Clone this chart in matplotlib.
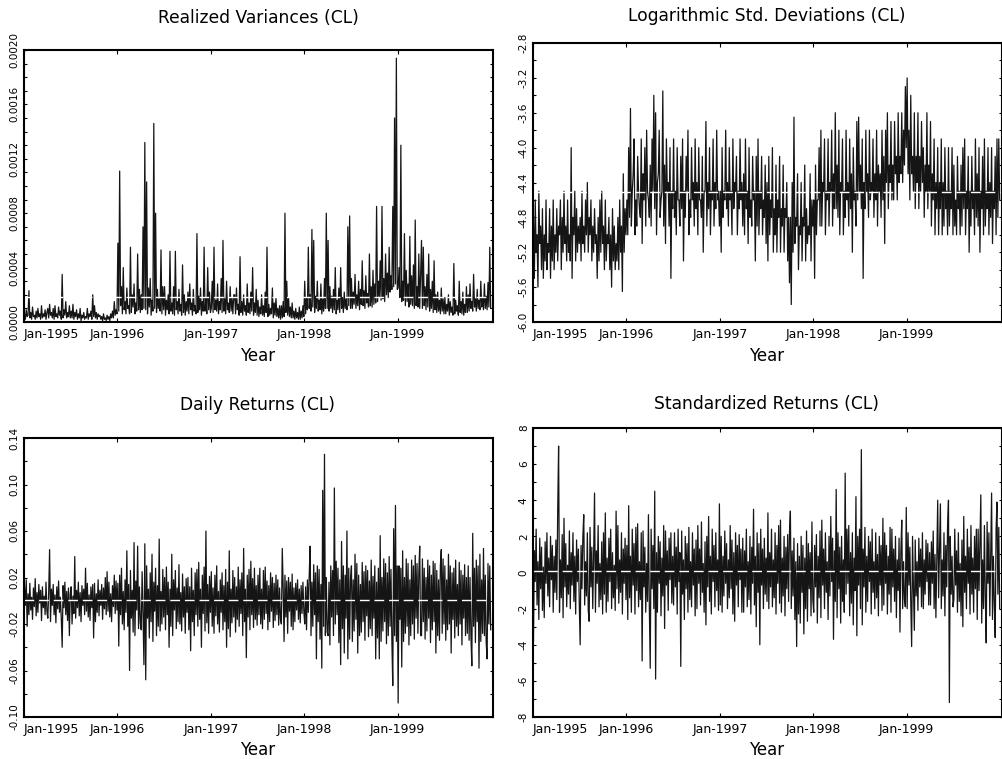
"""Four-panel CL volatility / returns figure (twice-weekly readings, 26 per quarter)."""
import matplotlib
matplotlib.use("Agg")
import matplotlib.pyplot as plt
import numpy as np
from matplotlib.ticker import FixedLocator, FormatStrFormatter

plt.rcParams['font.family'] = ['DejaVu Sans']
plt.rcParams['axes.unicode_minus'] = False

years = [1995, 1996, 1997, 1998, 1999]
year_labels = ['Jan-1995', 'Jan-1996', 'Jan-1997', 'Jan-1998', 'Jan-1999']

# realized variance, in units of 1e-4 (one row = one quarter)
rv_e4 = [
    0.6, 0.2, 0.9, 0.4, 0.5, 2.3, 0.3, 0.7, 0.2, 1.1, 0.4, 0.5, 0.2, 0.8, 0.3, 1.0, 0.4, 0.6, 0.2, 1.2, 0.3, 0.6, 0.4, 0.9, 0.2, 0.7,
    1.0, 0.3, 1.3, 0.5, 0.7, 0.3, 1.0, 0.2, 1.2, 0.4, 0.6, 0.3, 1.1, 0.5, 0.8, 0.2, 3.5, 0.3, 0.9, 0.5, 1.5, 0.3, 0.7, 0.4, 1.2, 0.3,
    0.8, 0.3, 1.3, 0.2, 0.7, 0.4, 0.9, 0.2, 0.6, 0.3, 1.0, 0.1, 0.5, 0.3, 0.7, 0.2, 0.4, 0.3, 1.0, 0.2, 0.6, 0.4, 0.8, 0.2, 2.0, 0.4,
    1.2, 0.3, 0.7, 0.2, 0.6, 0.4, 0.5, 0.2, 0.4, 0.1, 0.6, 0.2, 0.3, 0.1, 0.5, 0.2, 0.4, 0.1, 0.6, 0.3, 0.8, 0.3, 1.5, 0.5, 0.9, 0.6,
    5.8, 0.8, 11.1, 1.2, 2.6, 0.6, 4.0, 0.9, 1.5, 0.6, 2.5, 1.0, 1.2, 0.6, 5.5, 0.7, 2.0, 1.1, 2.8, 0.6, 1.4, 0.8, 5.0, 0.9, 2.4, 0.7,
    2.0, 0.9, 7.0, 1.0, 13.2, 0.9, 10.3, 0.6, 2.5, 1.1, 3.2, 0.5, 1.6, 0.8, 14.6, 1.0, 8.0, 0.7, 2.4, 1.0, 1.7, 0.8, 5.3, 0.6, 2.6, 0.9,
    2.6, 0.5, 1.6, 0.9, 2.0, 0.6, 5.2, 0.8, 1.4, 0.6, 2.6, 0.5, 5.2, 0.9, 1.5, 0.6, 2.4, 0.8, 1.3, 0.5, 4.2, 0.7, 2.0, 0.5, 1.5, 0.8,
    2.2, 0.6, 2.8, 0.9, 1.4, 0.5, 2.4, 0.8, 1.2, 0.6, 6.5, 0.7, 1.9, 0.9, 2.5, 0.5, 1.5, 0.8, 5.5, 0.8, 1.8, 0.6, 4.0, 0.9, 2.2, 0.7,
    1.0, 3.0, 0.7, 5.5, 0.9, 1.6, 0.8, 2.8, 0.6, 1.5, 0.9, 3.2, 0.7, 6.0, 0.8, 1.7, 0.6, 3.0, 0.9, 1.4, 0.7, 2.6, 0.8, 1.8, 0.6, 2.0,
    2.0, 0.6, 2.5, 0.9, 1.3, 0.5, 4.8, 0.7, 1.5, 0.5, 2.0, 0.8, 1.2, 0.5, 2.8, 0.7, 1.4, 0.6, 2.2, 0.8, 4.0, 0.5, 1.4, 0.7, 2.4, 0.5,
    1.6, 0.4, 1.1, 0.6, 2.0, 0.5, 1.2, 0.4, 2.2, 0.7, 5.5, 0.4, 1.3, 0.5, 1.0, 0.6, 2.5, 0.3, 1.4, 0.5, 1.8, 0.4, 1.0, 0.3, 1.2, 0.2,
    1.2, 0.3, 1.5, 0.4, 8.0, 0.7, 3.0, 0.5, 1.8, 0.4, 1.1, 0.3, 1.4, 0.3, 0.8, 0.2, 1.0, 0.3, 0.7, 0.2, 1.1, 0.2, 0.8, 0.3, 1.2, 0.4,
    3.0, 0.6, 1.8, 0.9, 5.5, 1.0, 2.0, 0.8, 6.8, 1.1, 6.0, 0.7, 1.9, 1.0, 3.0, 0.8, 1.6, 0.9, 2.8, 0.6, 1.7, 0.8, 3.2, 1.0, 8.0, 1.0,
    6.0, 0.8, 2.6, 1.0, 1.9, 0.7, 2.4, 0.9, 4.0, 0.6, 1.6, 0.9, 2.5, 0.7, 4.0, 1.0, 1.8, 0.7, 2.2, 1.0, 1.7, 0.9, 7.0, 1.2, 7.8, 1.0,
    3.2, 1.0, 2.2, 1.3, 3.5, 1.0, 2.0, 1.2, 3.0, 0.9, 2.4, 1.3, 4.5, 1.2, 2.3, 1.0, 3.4, 1.4, 2.1, 1.1, 5.0, 1.2, 2.6, 1.1, 3.8, 1.3,
    2.8, 1.4, 8.5, 1.5, 3.0, 1.8, 4.5, 1.6, 8.5, 1.7, 3.2, 1.5, 5.0, 2.0, 3.6, 1.8, 5.5, 2.2, 3.4, 2.4, 8.5, 2.6, 15.0, 2.8, 19.4, 2.4,
    2.5, 4.0, 1.8, 13.0, 1.5, 3.0, 1.6, 6.5, 1.2, 3.8, 1.5, 2.8, 1.1, 6.3, 1.3, 3.4, 1.2, 4.2, 1.0, 7.5, 1.2, 2.6, 1.1, 5.0, 1.0, 3.6,
    6.0, 1.0, 5.5, 1.2, 2.6, 0.9, 3.5, 1.1, 5.0, 0.8, 2.4, 1.0, 3.0, 0.7, 4.5, 0.9, 2.0, 0.7, 2.2, 0.8, 1.6, 0.6, 2.5, 0.8, 1.7, 0.6,
    1.8, 0.6, 1.3, 0.8, 2.0, 0.5, 1.5, 0.7, 1.1, 0.5, 4.3, 0.6, 1.6, 0.8, 1.2, 0.5, 3.0, 0.7, 1.5, 0.6, 2.2, 0.5, 1.3, 0.7, 2.6, 0.7,
    2.0, 0.8, 2.8, 1.0, 1.5, 0.8, 3.5, 1.1, 1.7, 0.8, 2.4, 1.0, 1.6, 0.9, 3.0, 1.1, 1.8, 0.9, 2.8, 1.0, 1.9, 0.9, 2.9, 1.1, 5.5, 1.0,
]

log_std = [
    -4.8, -5.5, -4.6, -5.2, -5.0, -5.6, -4.5, -5.1, -4.9, -5.4, -4.7, -5.5, -5.0, -5.3, -4.6, -5.4, -5.1, -5.2, -4.7, -5.5, -4.9, -5.3, -4.6, -5.4, -5.0, -5.2,
    -4.7, -5.3, -4.9, -5.0, -4.6, -5.4, -4.8, -5.2, -4.5, -5.1, -4.9, -5.3, -4.6, -5.2, -5.0, -5.3, -4.0, -5.5, -4.8, -5.0, -4.5, -5.3, -4.7, -5.2, -4.9, -5.1,
    -4.8, -5.3, -4.5, -5.1, -4.9, -5.2, -4.6, -5.0, -4.4, -5.2, -4.8, -5.0, -4.6, -5.3, -4.9, -5.2, -4.7, -5.1, -5.0, -5.5, -4.8, -5.3, -4.6, -5.2, -4.5, -5.1,
    -4.9, -5.4, -4.6, -5.3, -5.0, -5.1, -4.8, -5.4, -5.0, -5.6, -4.7, -5.3, -4.9, -5.4, -5.1, -5.3, -4.8, -5.4, -4.6, -5.2, -4.9, -5.65, -4.3, -5.2, -4.7, -5.0,
    -4.6, -5.0, -4.0, -4.8, -3.55, -4.9, -4.5, -4.3, -3.9, -5.0, -4.6, -4.9, -4.1, -4.5, -4.7, -4.8, -3.9, -5.1, -4.3, -4.6, -4.0, -4.9, -3.8, -4.5, -4.6, -4.8,
    -4.2, -4.9, -3.9, -4.5, -3.4, -4.7, -3.6, -5.0, -4.4, -4.3, -3.8, -4.8, -4.6, -4.5, -3.35, -4.9, -4.2, -5.1, -3.9, -4.5, -4.4, -4.9, -4.0, -5.5, -4.5, -4.7,
    -3.9, -4.8, -4.5, -5.0, -4.0, -4.6, -4.6, -4.9, -4.1, -4.7, -3.9, -5.3, -4.5, -4.8, -4.1, -4.5, -3.8, -5.0, -4.6, -4.8, -4.0, -4.6, -4.4, -4.9, -3.9, -4.7,
    -4.4, -5.0, -4.0, -4.6, -4.6, -4.8, -4.1, -5.2, -4.5, -4.5, -3.7, -4.9, -4.4, -4.7, -4.0, -5.0, -4.5, -4.6, -3.9, -4.9, -4.4, -4.7, -3.8, -4.6, -4.5, -4.9,
    -4.5, -5.2, -4.0, -4.8, -4.5, -4.6, -3.8, -4.7, -4.4, -4.9, -4.0, -4.6, -4.5, -5.0, -3.9, -4.7, -4.4, -4.5, -4.1, -5.0, -4.5, -4.7, -3.9, -4.6, -4.4, -4.9,
    -4.3, -5.0, -3.9, -4.7, -4.5, -5.1, -4.0, -4.8, -4.6, -4.9, -4.1, -4.6, -4.5, -5.3, -4.1, -4.9, -3.9, -5.0, -4.5, -4.7, -4.1, -5.0, -4.6, -4.8, -4.2, -5.1,
    -4.4, -5.3, -4.1, -5.0, -4.6, -4.8, -4.0, -5.2, -4.7, -5.0, -4.2, -5.2, -4.6, -4.8, -4.1, -5.2, -4.7, -4.9, -4.2, -5.2, -4.7, -4.8, -4.4, -5.3, -4.8, -5.55,
    -4.8, -5.8, -4.4, -5.2, -3.65, -5.1, -4.8, -4.9, -4.3, -5.4, -4.9, -5.0, -4.4, -5.3, -4.8, -4.9, -4.2, -5.3, -4.7, -5.1, -4.9, -5.0, -4.3, -5.3, -4.6, -4.9,
    -4.6, -5.5, -4.2, -5.0, -4.6, -4.6, -4.0, -4.9, -3.8, -4.9, -4.4, -4.5, -3.9, -5.0, -4.5, -4.6, -3.9, -4.9, -4.4, -4.5, -3.8, -4.9, -4.3, -4.7, -3.6, -4.7,
    -4.2, -4.8, -3.8, -5.0, -4.4, -4.5, -3.9, -5.0, -4.5, -4.8, -3.8, -4.6, -4.4, -4.9, -3.9, -4.7, -4.3, -5.2, -4.0, -4.6, -4.5, -4.9, -3.7, -4.6, -3.65, -4.5,
    -4.2, -4.7, -3.9, -5.5, -4.4, -4.7, -3.8, -4.5, -4.3, -4.8, -3.8, -4.6, -4.4, -4.5, -3.9, -4.8, -4.3, -4.6, -3.8, -4.9, -4.2, -4.5, -4.3, -4.8, -3.8, -4.6,
    -4.1, -5.1, -3.8, -4.4, -3.6, -4.7, -4.2, -4.4, -3.7, -4.6, -4.2, -4.6, -3.7, -4.3, -4.1, -4.6, -3.6, -4.4, -4.1, -4.3, -3.6, -4.4, -3.8, -4.2, -3.3, -4.0,
    -3.2, -4.3, -3.8, -4.6, -3.4, -4.3, -4.1, -4.5, -3.6, -4.7, -4.1, -4.4, -3.6, -4.7, -4.1, -4.5, -3.7, -4.4, -4.0, -4.8, -4.2, -4.5, -3.6, -4.7, -4.2, -4.5,
    -3.7, -4.9, -4.3, -4.6, -3.9, -5.0, -4.4, -4.7, -4.0, -5.0, -4.4, -4.7, -3.9, -5.0, -4.4, -4.9, -4.0, -4.7, -4.5, -5.0, -4.0, -4.9, -4.5, -4.7, -4.0, -5.0,
    -4.2, -4.9, -4.6, -5.0, -4.1, -4.7, -4.5, -5.0, -4.2, -4.9, -4.0, -4.7, -3.9, -5.0, -4.5, -4.7, -4.1, -5.2, -4.5, -4.9, -4.1, -4.7, -4.5, -5.0, -3.9, -4.8,
    -4.3, -4.9, -4.0, -5.2, -4.5, -4.7, -4.1, -5.0, -3.9, -4.9, -4.5, -4.7, -4.0, -5.0, -4.4, -4.8, -4.0, -5.1, -4.5, -4.7, -4.1, -5.0, -3.9, -4.8, -3.9, -4.6,
]

returns = [
    0.012, -0.004, 0.018, -0.022, 0.006, -0.012, 0.015, -0.008, 0.003, -0.016, 0.011, -0.005, 0.019, -0.013, 0.007, -0.010, 0.014, -0.002, 0.009, -0.017, 0.012, -0.006, 0.004, -0.012, 0.016, -0.009,
    -0.015, 0.008, 0.044, -0.018, 0.010, -0.004, 0.014, -0.012, 0.005, -0.019, 0.012, -0.007, 0.017, -0.010, 0.003, -0.015, -0.040, 0.013, -0.006, 0.016, -0.012, 0.008, -0.017, 0.011, -0.030, 0.006,
    0.012, -0.020, 0.004, -0.011, 0.038, -0.015, 0.009, -0.006, 0.016, -0.013, 0.007, -0.018, 0.013, -0.004, 0.010, -0.012, 0.028, -0.009, 0.015, -0.014, 0.005, -0.017, 0.012, -0.006, 0.014, -0.032,
    0.015, -0.018, 0.006, -0.010, 0.018, -0.013, 0.009, -0.004, 0.014, -0.016, 0.011, -0.007, 0.020, -0.012, 0.025, -0.009, 0.016, -0.014, 0.006, -0.018, 0.013, -0.005, 0.022, -0.011, 0.017, -0.008,
    0.015, -0.039, 0.022, -0.012, 0.028, -0.020, 0.008, -0.025, 0.018, -0.010, 0.043, -0.022, 0.014, -0.060, 0.026, -0.015, 0.009, -0.027, 0.050, -0.030, 0.017, -0.008, 0.047, -0.024, 0.012, -0.019,
    -0.025, 0.025, -0.012, -0.055, 0.049, -0.068, 0.030, -0.015, 0.010, -0.032, 0.024, -0.018, 0.040, -0.035, 0.016, -0.009, 0.028, -0.030, 0.013, -0.022, 0.053, -0.026, 0.008, -0.020, 0.027, -0.014,
    0.020, -0.025, 0.029, -0.012, 0.016, -0.040, 0.010, -0.022, 0.040, -0.030, 0.018, -0.008, 0.026, -0.024, 0.011, -0.018, 0.031, -0.020, 0.007, -0.026, 0.023, -0.014, 0.012, -0.028, 0.019, -0.010,
    0.020, -0.025, 0.012, -0.043, 0.028, -0.018, 0.009, -0.030, 0.024, -0.012, 0.027, -0.022, 0.033, -0.016, 0.010, -0.040, 0.022, -0.011, 0.029, -0.026, 0.060, -0.019, 0.014, -0.028, 0.021, -0.010,
    0.025, -0.022, 0.011, -0.028, 0.022, -0.013, 0.030, -0.020, 0.008, -0.027, 0.018, -0.010, 0.024, -0.025, 0.013, -0.018, 0.027, -0.040, 0.016, -0.024, 0.043, -0.031, 0.010, -0.019, 0.026, -0.014,
    0.020, -0.027, 0.012, -0.016, 0.029, -0.022, 0.018, -0.011, 0.024, -0.030, 0.045, -0.018, 0.010, -0.049, 0.022, -0.014, 0.027, -0.025, 0.034, -0.012, 0.019, -0.023, 0.028, -0.016, 0.013, -0.021,
    0.022, -0.012, 0.028, -0.020, 0.010, -0.024, 0.026, -0.016, 0.029, -0.011, 0.017, -0.025, 0.013, -0.018, 0.024, -0.009, 0.020, -0.023, 0.015, -0.017, 0.022, -0.012, 0.018, -0.021, 0.011, -0.016,
    -0.020, 0.045, 0.012, -0.035, 0.022, -0.014, 0.017, -0.028, 0.020, -0.009, 0.016, -0.022, 0.023, -0.025, 0.011, -0.018, 0.015, -0.008, 0.018, -0.016, 0.010, -0.019, 0.013, -0.011, 0.016, -0.009,
    -0.020, 0.012, -0.025, 0.018, -0.010, 0.022, 0.047, -0.030, 0.016, -0.022, 0.031, -0.012, 0.024, -0.050, 0.030, -0.018, 0.027, -0.033, 0.014, -0.058, 0.095, -0.022, 0.126, -0.030, 0.020, -0.027,
    -0.030, 0.016, -0.038, 0.030, -0.014, 0.026, -0.030, 0.097, -0.020, 0.034, -0.012, 0.028, -0.036, 0.018, -0.055, 0.051, -0.024, 0.030, -0.045, 0.022, -0.015, 0.060, -0.050, 0.028, -0.033, 0.019,
    0.030, -0.035, 0.018, -0.026, 0.040, -0.016, 0.032, -0.045, 0.022, -0.030, 0.014, -0.027, 0.033, -0.018, 0.025, -0.034, 0.030, -0.013, 0.026, -0.031, 0.017, -0.024, 0.035, -0.030, 0.021, -0.015,
    0.030, -0.050, 0.016, -0.032, 0.028, -0.050, 0.056, -0.035, 0.020, -0.026, 0.036, -0.018, 0.032, -0.037, 0.024, -0.030, 0.038, -0.022, 0.027, -0.034, -0.073, 0.062, -0.030, 0.082, -0.035, 0.030,
    -0.088, 0.030, -0.016, 0.028, -0.057, 0.043, -0.035, 0.020, -0.028, 0.036, -0.022, 0.032, -0.038, 0.018, -0.030, 0.035, -0.020, 0.030, -0.033, 0.039, -0.015, 0.032, -0.028, 0.024, 0.047, -0.030,
    -0.030, 0.036, -0.018, 0.028, -0.033, 0.020, -0.026, 0.035, -0.015, 0.030, -0.036, 0.022, -0.025, 0.034, -0.018, 0.032, -0.045, 0.026, -0.030, 0.018, -0.034, 0.030, 0.044, -0.028, 0.036, -0.020,
    0.030, -0.034, 0.018, -0.025, 0.040, -0.020, 0.030, -0.045, 0.024, -0.016, 0.028, -0.032, 0.035, -0.022, 0.014, -0.030, 0.033, -0.020, 0.026, -0.038, 0.022, -0.015, 0.031, -0.030, 0.020, -0.028,
    0.030, -0.034, 0.020, -0.030, -0.056, 0.058, -0.022, 0.028, -0.036, 0.035, -0.018, 0.030, -0.058, 0.040, -0.035, 0.018, -0.028, 0.045, -0.030, 0.022, -0.036, -0.050, 0.032, -0.020, 0.030, -0.025,
]

std_returns = [
    -3.9, 1.2, -0.5, 2.4, -1.8, 0.6, -2.6, 1.9, -0.9, 1.4, -2.1, 0.3, -2.5, 1.7, -0.6, 2.2, -1.3, 0.8, -1.9, 2.0, -0.4, 1.5, -2.2, 0.9, -1.1, 1.8,
    -1.5, 3.4, 7.0, -2.2, 0.7, -1.4, 2.1, -2.5, 3.0, -0.8, 1.6, -1.9, 0.4, -1.2, 2.3, -2.0, 1.1, -0.7, 2.2, -1.6, 0.9, -2.3, 1.8, -0.5, 1.3, -1.7,
    -4.0, 1.5, -0.9, 2.0, 3.2, -1.8, 0.6, -1.3, 2.2, -2.1, -2.7, 2.5, -0.8, 1.4, -2.0, 0.9, 4.4, -2.2, 1.2, -0.6, 2.6, -1.9, 0.5, -1.5, 1.7, -2.3,
    2.2, -1.2, 3.3, -2.2, 0.8, -1.6, 1.9, -0.5, 2.4, -2.0, 1.1, -1.4, 0.4, -2.1, 3.4, -0.9, 2.6, -1.7, 0.7, -1.1, 2.2, -2.3, 1.3, -0.6, 1.9, -1.5,
    1.5, -2.6, 3.7, -1.4, 0.9, -2.2, 2.4, -0.7, 1.6, -2.3, 2.5, -1.0, 2.7, -1.9, 0.6, -1.5, 2.2, -4.9, 2.3, -0.8, 1.4, -2.2, 0.5, -1.6, 3.2, -1.9,
    -5.3, 2.4, -0.9, 1.5, -2.0, 4.5, -5.9, 1.1, -2.2, 2.0, -0.6, 1.7, -2.4, 0.8, -1.3, 2.6, -3.1, 2.3, -0.7, 1.2, -2.1, 1.9, -0.4, 2.2, -1.7, 0.9,
    -1.8, 2.2, -0.8, 1.4, -2.3, 2.4, -0.5, 1.1, -5.2, 2.3, -1.2, 0.7, -2.6, 2.0, -0.9, 1.6, -2.2, 2.5, -1.5, 0.6, -1.9, 2.2, -0.7, 1.3, -2.4, 1.8,
    -2.0, 2.6, -0.6, 1.3, -1.8, 2.8, -1.1, 0.5, -2.2, 1.7, -2.9, 2.0, -0.8, 3.1, -1.6, 0.9, -2.3, 2.4, -0.5, 1.5, -1.9, 2.2, -1.0, 0.7, -2.1, 3.8,
    -1.8, 2.0, -2.2, 0.9, -1.3, 2.3, -0.6, 1.6, -2.0, 0.7, -1.4, 2.6, -0.9, 1.8, -2.3, 1.1, -2.7, 2.2, -0.7, 1.5, -1.9, 2.1, -0.4, 1.3, -2.2, 1.9,
    -2.2, 1.2, -0.8, 2.4, -1.9, 0.6, -1.5, 2.0, -2.3, 1.4, -0.6, 3.5, -1.8, 0.9, -3.0, 2.2, -1.1, 1.6, -4.0, 2.4, -0.7, 1.3, -2.0, 1.9, -1.2, 0.8,
    -1.6, 3.3, -2.0, 1.1, -0.8, 2.4, -1.9, 0.7, -1.4, 2.2, -2.3, 1.5, -0.6, 2.6, -1.7, 2.9, -2.2, 0.8, -1.3, 2.0, -2.4, 1.4, -0.9, 2.1, -1.6, 2.2,
    3.4, -2.0, 1.2, -1.3, 1.9, -2.6, 0.6, -4.1, 1.6, -2.3, 0.9, -2.8, 2.0, -1.1, 1.5, -3.4, 0.8, -2.0, 2.3, -2.7, 1.6, -0.9, 1.1, -2.4, 2.8, -1.5,
    -2.2, 1.5, -0.8, 2.1, -2.8, 0.9, -1.4, 2.3, -2.5, 2.9, -0.7, 1.3, -2.0, 2.2, -1.1, 0.6, -2.6, 2.0, -1.3, 3.1, -0.5, 1.9, -3.7, 1.2, -1.6, 4.6,
    -2.5, 2.2, -0.9, 1.4, -2.8, 2.0, -1.6, 0.7, -2.2, 5.5, -1.2, 2.4, -0.6, 2.6, -2.4, 1.1, -1.7, 2.2, -2.9, 0.8, -1.0, 4.2, -3.5, 2.0, -0.7, 2.4,
    -2.0, 6.8, -2.9, 1.3, -0.8, 2.5, -2.2, 0.9, -1.6, 2.0, -0.5, 1.7, -2.3, 2.4, -1.1, 0.6, -2.0, 2.2, -1.4, 1.0, -2.4, 2.0, -0.7, 1.5, -2.1, 3.0,
    -1.8, 2.2, -0.6, 1.5, -2.3, 0.9, -1.2, 2.5, -2.2, 2.4, -0.8, 1.3, -1.6, 2.0, -2.5, 0.7, -1.0, 1.9, -3.3, 1.2, 2.9, -2.0, 0.6, -1.5, -1.9, 3.6,
    -2.0, 2.2, -0.7, 1.4, -1.6, -4.1, 2.0, -0.9, -3.2, 1.8, -1.3, 0.6, -2.1, 1.9, -0.8, 1.3, -1.9, 2.2, -2.0, 0.7, -1.2, 1.8, -0.5, 1.6, -1.8, 1.1,
    -1.8, 1.7, -0.6, 2.3, -2.0, 1.0, -2.5, 0.6, 4.0, -1.4, 1.1, 3.8, -2.0, 0.7, -1.3, 2.2, -2.4, 1.5, -0.8, 2.6, 4.0, -7.2, 2.0, -1.2, 0.9, -1.9,
    -1.5, 2.4, -0.7, 1.2, -2.2, 2.2, -1.6, 0.5, -2.4, 1.8, -3.0, 3.1, -1.1, 0.9, -2.0, 2.4, -0.6, 1.4, -2.3, 2.6, -1.2, 0.8, -2.2, 2.0, -0.9, 2.4,
    -2.6, 2.4, -1.0, 1.6, 4.3, -2.8, 0.7, -2.0, 2.6, -1.3, -3.9, 2.8, -0.6, 2.2, -2.4, 1.1, 4.4, -2.6, 0.9, -1.7, -3.6, 2.4, 3.9, -1.2, 2.5, -2.0,
]

# sample means (white dashed lines)
mean_rv = 0.000184
mean_log_std = -4.51
mean_ret = 0.001
mean_std_ret = 0.07

series = [np.array(rv_e4) * 1e-4, np.array(log_std),
          np.array(returns), np.array(std_returns)]
means = [mean_rv, mean_log_std, mean_ret, mean_std_ret]
titles = ['Realized Variances (CL)', 'Logarithmic Std. Deviations (CL)',
          'Daily Returns (CL)', 'Standardized Returns (CL)']

fig = plt.figure(figsize=(10.03, 7.59), dpi=100)
W, H = 1003.0, 759.0
# (left, top, right, bottom) in pixels
boxes = [(24, 50, 493, 322), (533, 43, 1002, 322),
         (24, 438, 493, 717), (533, 428, 1002, 717)]
ylims = [(0, 0.002), (-6.0, -2.8), (-0.10, 0.14), (-8, 8)]
label_steps = [0.0004, 0.4, 0.04, 2]
minor_steps = [0.0001, 0.2, 0.02, 1]
fmts = ['%.4f', '%.1f', '%.2f', '%d']
title_pos = [(258, 18), (767, 16), (258, 405), (767, 404)]
year_pos = [(258, 356), (767, 356), (258, 750), (767, 750)]

for i in range(4):
    y = series[i]
    t = 1995 + 5.0 * (np.arange(len(y)) + 0.5) / len(y)
    l, tp, r, b = boxes[i]
    ax = fig.add_axes([l / W, 1 - b / H, (r - l) / W, (b - tp) / H])
    ax.plot(t, y, color='#151515', lw=0.9)
    ax.axhline(means[i], color='white', lw=1.0, dashes=(7, 3.5))
    lo, hi = ylims[i]
    ax.set_ylim(lo, hi)
    ax.set_xlim(1995.0, 2000.02)
    maj = np.round(np.arange(lo, hi + label_steps[i] / 2, label_steps[i]), 6)
    mnr = np.round(np.arange(lo, hi + minor_steps[i] / 2, minor_steps[i]), 6)
    ax.yaxis.set_major_locator(FixedLocator(maj))
    ax.yaxis.set_minor_locator(FixedLocator(mnr))
    ax.yaxis.set_major_formatter(FormatStrFormatter(fmts[i]))
    ax.set_xticks(years)
    ax.set_xticklabels(year_labels)
    ax.get_xticklabels()[0].set_ha('left')
    ax.tick_params(axis='y', which='both', direction='in', length=2.5, width=0.8,
                   left=True, right=True, labelsize=7.5, pad=3)
    ax.tick_params(axis='x', which='both', direction='in', length=3, width=0.8,
                   top=True, bottom=True, labelsize=9, pad=4)
    for lab in ax.get_yticklabels():
        lab.set_rotation(90)
        lab.set_va('center')
    for sp in ax.spines.values():
        sp.set_linewidth(1.5)
    fig.text(title_pos[i][0] / W, 1 - title_pos[i][1] / H, titles[i],
             ha='center', va='center', fontsize=12.3)
    fig.text(year_pos[i][0] / W, 1 - year_pos[i][1] / H, 'Year',
             ha='center', va='center', fontsize=12)

fig.savefig('out.png', dpi=100)
